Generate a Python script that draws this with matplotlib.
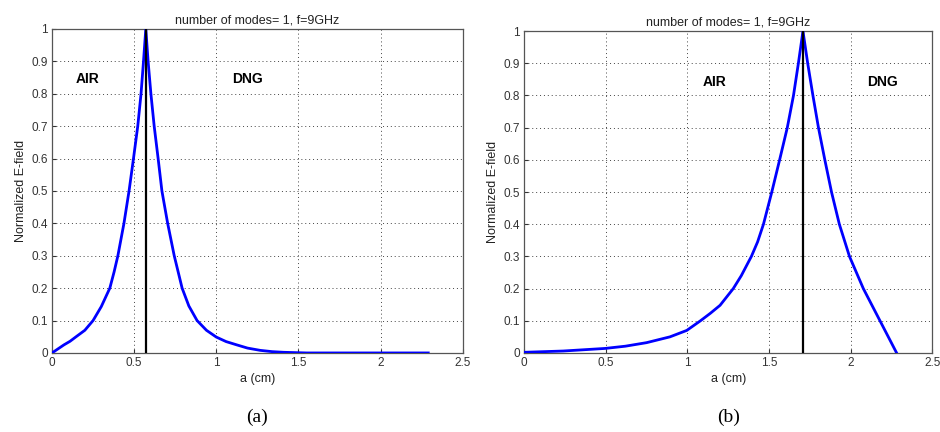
import matplotlib.pyplot as plt

# (a) interface near a = 0.57 cm
xa = [0.0, 0.035, 0.073, 0.11, 0.144, 0.20, 0.25, 0.30, 0.352, 0.378, 0.401, 0.438,
      0.469, 0.496, 0.522, 0.542, 0.557, 0.571,
      0.585, 0.602, 0.622, 0.646, 0.669, 0.704, 0.744, 0.792, 0.833, 0.883,
      0.94, 1.0, 1.06, 1.124, 1.19, 1.267, 1.34, 1.41, 1.55, 2.0, 2.29]
ya = [0.0, 0.012, 0.025, 0.036, 0.049, 0.07, 0.10, 0.143, 0.20, 0.25, 0.30, 0.40,
      0.50, 0.60, 0.70, 0.80, 0.90, 1.0,
      0.90, 0.80, 0.70, 0.60, 0.50, 0.40, 0.30, 0.20, 0.145, 0.10,
      0.07, 0.049, 0.035, 0.025, 0.015, 0.008, 0.004, 0.002, 0.0, 0.0, 0.0]
ifc_a = 0.571

# (b) interface near a = 1.71 cm
xb = [0.0, 0.239, 0.495, 0.62, 0.75, 0.893, 0.996, 1.08, 1.14, 1.20, 1.281, 1.33,
      1.392, 1.43, 1.466, 1.517, 1.565, 1.612, 1.650, 1.680, 1.708,
      1.737, 1.769, 1.803, 1.842, 1.883, 1.931, 1.993, 2.078, 2.18, 2.282]
yb = [0.002, 0.006, 0.014, 0.021, 0.032, 0.05, 0.07, 0.10, 0.123, 0.148, 0.20, 0.24,
      0.30, 0.345, 0.40, 0.50, 0.60, 0.70, 0.80, 0.90, 1.0,
      0.90, 0.80, 0.70, 0.60, 0.50, 0.40, 0.30, 0.20, 0.10, 0.0]
ifc_b = 1.707

title = 'number of modes= 1, f=9GHz'
labels_a = [('AIR', 0.146, 0.845), ('DNG', 1.095, 0.845)]
labels_b = [('AIR', 1.095, 0.843), ('DNG', 2.10, 0.843)]

plt.rcParams['font.family'] = ['Liberation Sans', 'DejaVu Sans']

fig = plt.figure(figsize=(9.4, 4.32), dpi=100)
ax1 = fig.add_axes([0.0553, 0.183, 0.437, 0.750])
ax2 = fig.add_axes([0.5577, 0.183, 0.434, 0.745])

for ax, x, y, ifc, labels, cap in [(ax1, xa, ya, ifc_a, labels_a, '(a)'),
                                   (ax2, xb, yb, ifc_b, labels_b, '(b)')]:
    ax.plot(x, y, color='#0000ff', lw=2.0, zorder=3)
    ax.axvline(ifc, color='black', lw=1.6, zorder=4)
    ax.set_xlim(0, 2.5)
    ax.set_ylim(0, 1)
    ax.set_xticks([0, 0.5, 1, 1.5, 2, 2.5])
    ax.set_xticklabels(['0', '0.5', '1', '1.5', '2', '2.5'])
    ax.set_yticks([i / 10 for i in range(11)])
    ax.set_yticklabels(['0'] + ['%.1f' % (i / 10) for i in range(1, 10)] + ['1'])
    ax.grid(True, color='#444444', ls=(0, (1, 3)), lw=0.7)
    ax.tick_params(direction='in', length=3, labelsize=8.5, colors='#333333', pad=3)
    for s in ax.spines.values():
        s.set_color('#555555')
        s.set_linewidth(0.9)
    ax.set_title(title, fontsize=9, color='#222222', pad=4)
    ax.set_xlabel('a (cm)', fontsize=9, color='#222222', labelpad=3)
    ax.set_ylabel('Normalized E-field', fontsize=9, color='#222222', labelpad=3)
    for t, tx, ty in labels:
        ax.text(tx, ty, t, fontsize=10, fontweight='bold', va='center', ha='left')
    ax.text(0.5, -0.2, cap, transform=ax.transAxes, ha='center', va='center',
            fontsize=14, family='Liberation Serif')

fig.savefig('out.png', dpi=100)
